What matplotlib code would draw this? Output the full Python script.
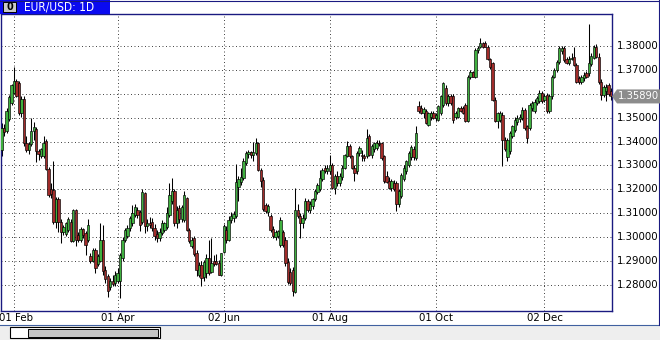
import matplotlib
matplotlib.use("Agg")
import matplotlib.pyplot as plt
from matplotlib.patches import Rectangle, Polygon

# ---- data (prices in pips: value -> 1 + v/10000) ----
opens = [3366,3457,3445,3495,3560,3604,3652,3645,3518,3580,3395,3365,3388,3445,3452,3362,3340,3340,3402,3286,
         3202,3198,3065,3160,3065,3023,3013,3030,3065,2983,3113,3008,2987,3035,3017,2987,2921,2900,2948,2887,
         2900,2990,2862,2836,2790,2815,2808,2815,2815,2912,2990,3003,3037,3060,3093,3114,3107,3062,3185,3045,
         3058,3062,3040,3015,2996,3018,3030,3044,3093,3150,3195,3060,3121,3075,3072,3165,3031,2965,2996,2933,
         2843,2885,2835,2850,2915,2855,2900,2900,2893,2842,2940,3030,2990,3070,3080,3090,3210,3230,3248,3310,
         3348,3355,3345,3352,3394,3282,3240,3135,3105,3087,3035,3000,3005,2967,3020,2990,2898,2855,2863,2772,
         3115,3087,3060,3080,3150,3112,3130,3158,3190,3200,3242,3290,3276,3276,3304,3207,3255,3225,3250,3290,
         3340,3381,3339,3290,3276,3353,3346,3339,3339,3422,3346,3370,3375,3394,3394,3339,3255,3235,3207,3228,
         3228,3137,3172,3245,3276,3300,3335,3370,3332,3550,3540,3520,3526,3471,3505,3519,3498,3492,3520,3554,
         3624,3561,3589,3589,3505,3505,3540,3540,3554,3485,3672,3690,3672,3783,3797,3811,3811,3797,3745,3728,
         3575,3485,3490,3513,3408,3335,3360,3422,3450,3480,3495,3499,3533,3464,3457,3540,3530,3562,3568,3603,
         3575,3596,3530,3589,3672,3700,3735,3780,3790,3745,3730,3745,3755,3721,3665,3650,3665,3685,3686,3725,
         3749,3797,3756,3651,3596,3610,3635,3612]
highs = [3479,3475,3540,3595,3642,3711,3662,3652,3590,3590,3425,3400,3500,3480,3460,3370,3375,3425,3410,3295,
         3225,3320,3170,3168,3075,3050,3065,3085,3075,3120,3118,3020,3042,3040,3025,3077,2935,2955,2955,2930,
         3058,3050,2880,2845,2830,2840,2860,2870,2935,3000,3040,3051,3090,3135,3140,3125,3115,3200,3190,3075,
         3085,3080,3055,3030,3040,3070,3065,3128,3225,3246,3200,3130,3135,3135,3195,3170,3040,3000,3005,2945,
         2895,2900,2905,2930,2990,2995,2925,2930,2905,2935,3055,3045,3090,3105,3110,3306,3258,3290,3330,3360,
         3365,3362,3400,3416,3400,3290,3250,3145,3140,3095,3045,3030,3030,3085,3030,3000,2915,2870,2875,3206,
         3140,3100,3095,3165,3160,3150,3165,3200,3225,3283,3290,3300,3300,3345,3310,3265,3275,3270,3300,3350,
         3401,3390,3345,3300,3360,3380,3365,3350,3453,3430,3390,3400,3405,3405,3400,3345,3275,3250,3245,3240,
         3235,3200,3270,3300,3325,3360,3385,3380,3464,3568,3552,3545,3535,3525,3530,3528,3520,3555,3595,3651,
         3635,3600,3600,3600,3530,3545,3548,3550,3560,3680,3700,3695,3790,3800,3832,3818,3820,3805,3750,3735,
         3585,3525,3530,3525,3420,3415,3445,3470,3505,3510,3515,3545,3540,3470,3560,3570,3580,3590,3617,3610,
         3600,3605,3600,3680,3710,3740,3800,3800,3800,3755,3760,3770,3795,3730,3675,3680,3690,3695,3893,3770,
         3805,3810,3770,3660,3635,3640,3645,3625]
lows = [3340,3425,3435,3488,3552,3598,3585,3510,3505,3380,3355,3350,3380,3405,3314,3325,3332,3330,3280,3170,
        3165,3055,3040,3023,2975,3010,3005,3020,2978,2978,2962,2978,2980,2995,2926,2980,2890,2895,2851,2880,
        2895,2842,2810,2750,2780,2795,2795,2810,2745,2900,2980,2995,3025,3045,3085,3080,3024,3055,3017,3025,
        3040,3025,2990,2982,2985,3010,3020,3035,3085,3140,3045,3040,3060,3065,3065,3025,2975,2955,2920,2836,
        2835,2795,2815,2830,2840,2850,2880,2885,2840,2838,2935,2975,2985,3060,3065,3080,3150,3220,3240,3300,
        3330,3330,3320,3345,3275,3210,3110,3100,3090,3020,2995,2990,2995,2960,2960,2880,2805,2800,2755,2765,
        3080,2995,3040,3070,3105,3100,3120,3150,3180,3195,3235,3270,3265,3265,3200,3180,3215,3215,3240,3285,
        3335,3330,3285,3235,3265,3340,3320,3318,3330,3340,3330,3355,3365,3380,3325,3225,3225,3200,3195,3195,
        3110,3125,3165,3235,3265,3295,3325,3325,3325,3520,3515,3500,3475,3464,3490,3495,3485,3485,3510,3545,
        3555,3550,3555,3478,3495,3500,3525,3515,3480,3480,3660,3670,3665,3770,3790,3790,3795,3740,3705,3570,
        3480,3455,3480,3297,3360,3320,3350,3415,3440,3470,3480,3490,3450,3394,3450,3530,3520,3555,3560,3560,
        3565,3520,3520,3580,3665,3690,3725,3765,3735,3725,3720,3740,3715,3645,3640,3640,3655,3665,3675,3715,
        3745,3750,3640,3575,3585,3570,3590,3575]
closes = [3457,3440,3530,3588,3636,3652,3592,3518,3580,3395,3365,3388,3445,3459,3362,3350,3367,3395,3286,3178,
          3180,3065,3160,3065,3023,3044,3058,3075,2983,3113,2990,2987,3035,3008,2968,3050,2900,2948,2872,2921,
          2990,2858,2825,2775,2815,2805,2843,2850,2926,2989,3031,3037,3079,3100,3128,3093,3051,3190,3045,3058,
          3052,3040,3003,2996,3020,3058,3058,3100,3176,3195,3060,3115,3075,3128,3178,3031,2985,2990,2928,2864,
          2885,2829,2895,2915,2852,2893,2886,2887,2842,2935,3045,2990,3073,3090,3095,3232,3242,3250,3317,3352,
          3355,3345,3358,3394,3282,3234,3118,3108,3130,3031,3003,3020,3025,3073,2968,2891,2814,2808,2775,3115,
          3087,3060,3080,3150,3112,3138,3158,3193,3220,3249,3283,3276,3290,3304,3207,3255,3225,3255,3290,3346,
          3381,3339,3290,3270,3353,3374,3339,3330,3415,3346,3381,3394,3394,3388,3332,3235,3232,3207,3235,3200,
          3137,3193,3262,3290,3318,3353,3378,3335,3436,3526,3520,3535,3478,3519,3519,3498,3512,3547,3589,3644,
          3561,3589,3561,3492,3520,3540,3530,3520,3485,3672,3690,3672,3783,3790,3811,3797,3797,3745,3714,3575,
          3485,3520,3520,3408,3367,3405,3436,3464,3492,3500,3505,3533,3457,3415,3554,3560,3565,3582,3603,3568,
          3590,3526,3590,3672,3700,3735,3790,3790,3742,3730,3745,3750,3720,3651,3650,3670,3680,3670,3728,3760,
          3797,3755,3651,3596,3630,3630,3600,3589]

date_ticks = [5, 47, 90, 133, 176, 220]
date_labels = ["01 Feb", "01 Apr", "02 Jun", "01 Aug", "01 Oct", "02 Dec"]
price_ticks = [1.28, 1.29, 1.30, 1.31, 1.32, 1.33, 1.34, 1.35, 1.37, 1.38]
grid_prices = [1.28, 1.29, 1.30, 1.31, 1.32, 1.33, 1.34, 1.35, 1.36, 1.37, 1.38]
last_price = 1.35890
symbol_title = "EUR/USD: 1D"

def px(v):
    return 1 + v / 10000.0

O = [px(v) for v in opens]
H = [px(v) for v in highs]
L = [px(v) for v in lows]
C = [px(v) for v in closes]
n = len(C)

W, Hh = 660, 340
fig = plt.figure(figsize=(6.6, 3.4), dpi=100)
fig.patch.set_facecolor("white")

def fx(x):
    return x / W
def fy(y):
    return 1 - y / Hh

FONT = dict(family="DejaVu Sans", fontstretch="condensed")

# axes: x 1..612 px, y 14..311 px
ax = fig.add_axes([fx(1), fy(311), fx(612) - fx(1), fy(14) - fy(311)])
ax.set_facecolor("white")
ax.set_xlim(-0.27, 247.4)
ax.set_ylim(1.26912, 1.39339)

# grid
for g in grid_prices:
    ax.axhline(g, color="#404040", lw=0.7, ls=(0, (1, 2.6)), zorder=0)
for t in date_ticks:
    ax.axvline(t, color="#404040", lw=0.7, ls=(0, (1, 2.6)), zorder=0)

# candles
xs = list(range(n))
ax.vlines(xs, L, H, color="black", lw=0.75, zorder=2)
bottoms = [min(o, c) for o, c in zip(O, C)]
heights = [max(abs(c - o), 0.00008) for o, c in zip(O, C)]
cols = ["#3fb03f" if c >= o else "#a12c2a" for o, c in zip(O, C)]
ax.bar(xs, heights, bottom=bottoms, width=0.95, color=cols,
       edgecolor="black", linewidth=0.45, zorder=3)

ax.set_xticks([])
ax.set_yticks([])
for s in ax.spines.values():
    s.set_color("#1a1a80")
    s.set_linewidth(1.0)

# price labels
for p in price_ticks:
    yy = 46 + (1.38 - p) * 2390
    fig.text(fx(617), fy(yy), f"{p:.5f}", ha="left", va="center",
             fontsize=8.2, color="black", **FONT)

# date labels
for t, lab in zip(date_ticks, date_labels):
    xpix = 14 + (t - 5) * 2.469
    fig.text(fx(max(xpix, 16)), fy(318), lab, ha="center", va="center",
             fontsize=8.2, color="black", **FONT)

# current price tag
ly = 46 + (1.38 - last_price) * 2390
tag = Polygon([[fx(612), fy(ly)], [fx(617), fy(ly - 7)], [fx(660), fy(ly - 7)],
               [fx(660), fy(ly + 7)], [fx(617), fy(ly + 7)]],
              closed=True, transform=fig.transFigure, facecolor="#8c8c8c",
              edgecolor="none", zorder=5)
fig.add_artist(tag)
fig.text(fx(617.5), fy(ly), f"{last_price:.5f}", ha="left", va="center",
         fontsize=8.0, color="white", zorder=6, **FONT)

# title bar
fig.add_artist(Rectangle((fx(0), fy(14)), fx(110), fy(0) - fy(14),
                         transform=fig.transFigure, facecolor="#0a0af0",
                         edgecolor="none"))
fig.add_artist(Rectangle((fx(3), fy(12)), fx(13), fy(2) - fy(12),
                         transform=fig.transFigure, facecolor="#c8c8c8",
                         edgecolor="black", linewidth=0.7))
fig.text(fx(9.5), fy(7), "0", ha="center", va="center", fontsize=7,
         fontweight="bold", color="black")
fig.text(fx(24), fy(7.5), symbol_title, ha="left", va="center",
         fontsize=8.6, color="white", **FONT)
fig.add_artist(plt.Line2D([0, 1], [fy(0.5), fy(0.5)], transform=fig.transFigure,
                          color="#1a1a80", lw=0.8))

# bottom scroll area
fig.add_artist(Rectangle((0, 0), 1, fy(325), transform=fig.transFigure,
                         facecolor="#eeeeee", edgecolor="none"))
fig.add_artist(plt.Line2D([0, 1], [fy(325), fy(325)], transform=fig.transFigure,
                          color="#4060a0", lw=0.8))
fig.add_artist(Rectangle((fx(10), fy(338)), fx(150), fy(327) - fy(338),
                         transform=fig.transFigure, facecolor="white",
                         edgecolor="black", linewidth=0.8))
fig.add_artist(Rectangle((fx(28), fy(336.5)), fx(130), fy(328.5) - fy(336.5),
                         transform=fig.transFigure, facecolor="#c4c4c4",
                         edgecolor="black", linewidth=0.7))
fig.add_artist(plt.Line2D([fx(659), fx(659)], [fy(325), 1], transform=fig.transFigure,
                          color="#1a1a80", lw=0.8))

fig.savefig("out.png", dpi=100)
